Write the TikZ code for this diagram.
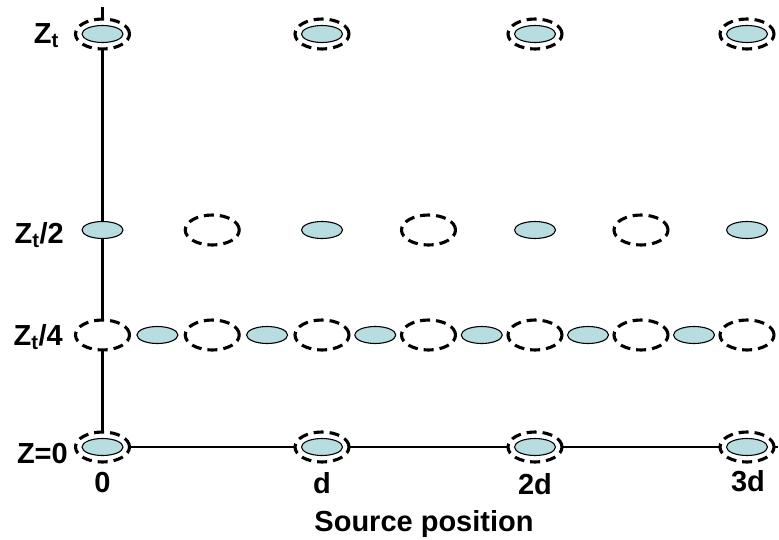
\documentclass[tikz,border=0pt]{standalone}
\usepackage{fontspec}
\setmainfont{Liberation Sans}
\usetikzlibrary{shapes.geometric,backgrounds}
\definecolor{ballfill}{RGB}{183,221,224}
\begin{document}
\begin{tikzpicture}[x=1pt,y=-1pt,
  solidball/.style={ellipse,draw=black,line width=1.1pt,fill=ballfill,minimum width=41pt,minimum height=17pt,inner sep=0pt},
  dashring/.style={ellipse,draw=black,line width=3.1pt,dash pattern=on 10pt off 6pt,fill=white,minimum width=54pt,minimum height=30pt,inner sep=0pt},
  axisline/.style={line width=2.3pt},
  lbl/.style={font=\fontsize{29}{32}\selectfont\bfseries,inner sep=0pt}]
\useasboundingbox (0,0) rectangle (779,539);
% top row Z_t
\foreach \x [count=\i] in {102.5,322,535,747} {
  \node[dashring] (tr\i) at (\x,34) {};
  \node[solidball] (tb\i) at (\x,34) {};
}
% half row Z_t/2
\foreach \x [count=\i] in {102.5,322,535,747} {
  \node[solidball] (hb\i) at (\x,230) {};
}
\foreach \x [count=\i] in {212.25,428.5,641} {
  \node[dashring] (hr\i) at (\x,230) {};
}
% quarter row Z_t/4
\foreach \x [count=\i] in {102.5,212.25,322,428.5,535,641,747} {
  \node[dashring] (qr\i) at (\x,335) {};
}
\foreach \x [count=\i] in {157.4,267.1,375.25,481.75,588,694} {
  \node[solidball] (qb\i) at (\x,335) {};
}
% bottom row Z=0
\foreach \x [count=\i] in {102.5,322,535,747} {
  \node[dashring] (zr\i) at (\x,447) {};
  \node[solidball] (zb\i) at (\x,447) {};
}
% axes
\coordinate (vtop) at (102.5,7);
\coordinate (hend) at (778,447);
\begin{scope}[on background layer]
  \draw[axisline] (vtop) -- (zb1.center);
  \draw[axisline] (zb1.center) -- (hend);
\end{scope}
% row labels
\node[lbl,anchor=base east] (lzt) at (59,43) {Z\textsubscript{t}};
\node[lbl,anchor=base east] (lzt2) at (64,243) {Z\textsubscript{t}/2};
\node[lbl,anchor=base east] (lzt4) at (63,345) {Z\textsubscript{t}/4};
\node[lbl,anchor=base east] (lz0) at (68,463) {Z=0};
% column labels
\node[lbl,anchor=base] (c0) at (102.5,492) {0};
\node[lbl,anchor=base] (c1) at (322,493) {d};
\node[lbl,anchor=base] (c2) at (535,494) {2d};
\node[lbl,anchor=base] (c3) at (748,491) {3d};
\node[lbl,anchor=base] (xlab) at (424,531) {Source position};
\end{tikzpicture}
\end{document}
